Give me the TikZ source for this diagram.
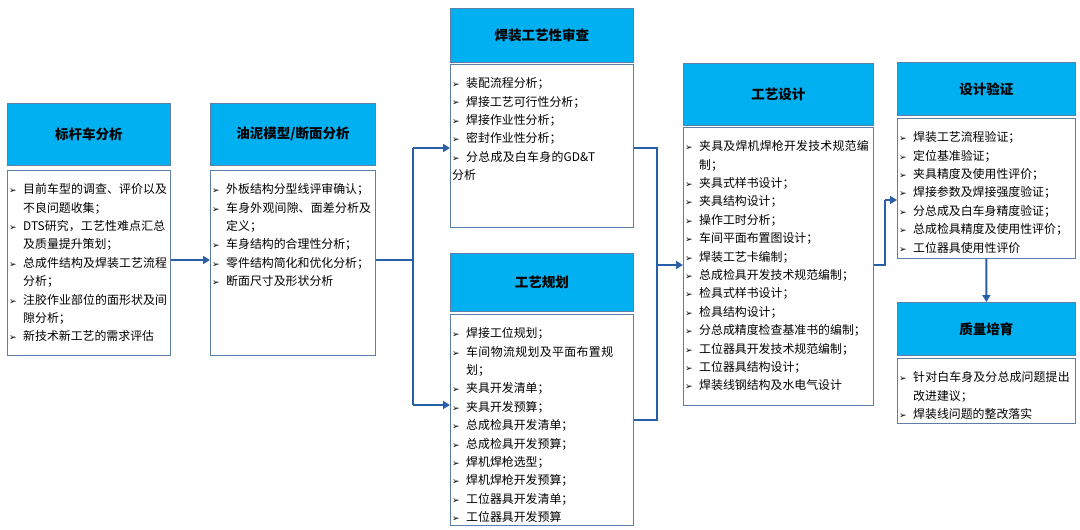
\documentclass[tikz,border=0pt]{standalone}
\usepackage{fontspec}
\setmainfont{Noto Sans CJK SC}
\newfontfamily\djv{DejaVu Sans}
\XeTeXlinebreaklocale "zh"
\XeTeXlinebreakskip=0pt plus 1pt
\usetikzlibrary{arrows.meta}
\definecolor{hdrfill}{HTML}{00B0F0}
\definecolor{hdrline}{HTML}{5B7FA8}
\definecolor{flow}{HTML}{2860A8}
\newcommand{\bi}[1]{\par\hangindent=14pt\hangafter=1\noindent\makebox[14pt][l]{\djv\small ➢}#1}
\tikzset{
 hdr/.style={draw=hdrline, fill=hdrfill, line width=0.8pt, anchor=north west, font=\fontsize{13.5}{16}\selectfont\bfseries, inner sep=0pt},
 bodybox/.style={draw=hdrline, line width=0.7pt, anchor=north west, inner sep=0pt},
 bodytext/.style={anchor=north west, align=left, inner xsep=2pt, inner ysep=5pt, font=\fontsize{11.9}{18.4}\selectfont},
 flowline/.style={draw=flow, line width=2.2pt},
 flowarrow/.style={flowline, -{Triangle[length=7pt,width=8pt]}}
}
\begin{document}
\begin{tikzpicture}[x=1pt,y=-1pt]
\useasboundingbox (0,0) rectangle (1080,530);
% column 1
\node[hdr, minimum width=163, minimum height=62] (h1) at (7,103) {标杆车分析};
\node[bodybox, minimum width=163, minimum height=185] (b1) at (7,170) {};
\node[bodytext, text width=160] (t1) at (b1.north west) {\bi{目前车型的调查、评价以及不良问题收集；}\bi{DTS研究，工艺性难点汇总及质量提升策划；}\bi{总成件结构及焊装工艺流程分析；}\bi{注胶作业部位的面形状及间隙分析；}\bi{新技术新工艺的需求评估}};
% column 2
\node[hdr, minimum width=165, minimum height=62] (h2) at (210,103) {油泥模型/断面分析};
\node[bodybox, minimum width=165, minimum height=185] (b2) at (210,170) {};
\node[bodytext, text width=164] (t2) at (b2.north west) {\bi{外板结构分型线评审确认；}\bi{车身外观间隙、面差分析及定义；}\bi{车身结构的合理性分析；}\bi{零件结构简化和优化分析；}\bi{断面尺寸及形状分析}};
% column 3a
\node[hdr, minimum width=183, minimum height=54] (h3) at (450,8) {焊装工艺性审查};
\node[bodybox, minimum width=183, minimum height=163] (b3) at (450,64) {};
\node[bodytext, text width=150] (t3) at (b3.north west) {\bi{装配流程分析；}\bi{焊接工艺可行性分析；}\bi{焊接作业性分析；}\bi{密封作业性分析；}\bi{分总成及白车身的GD\&T分析}};
% column 3b
\node[hdr, minimum width=183, minimum height=58] (h4) at (450,253) {工艺规划};
\node[bodybox, minimum width=183, minimum height=211] (b4) at (450,314) {};
\node[bodytext, text width=170] (t4) at (b4.north west) {\bi{焊接工位规划；}\bi{车间物流规划及平面布置规划；}\bi{夹具开发清单；}\bi{夹具开发预算；}\bi{总成检具开发清单；}\bi{总成检具开发预算；}\bi{焊机焊枪选型；}\bi{焊机焊枪开发预算；}\bi{工位器具开发清单；}\bi{工位器具开发预算}};
% column 4
\node[hdr, minimum width=190, minimum height=62] (h5) at (683,63) {工艺设计};
\node[bodybox, minimum width=190, minimum height=278] (b5) at (683,127) {};
\node[bodytext, text width=189] (t5) at (b5.north west) {\bi{夹具及焊机焊枪开发技术规范编制；}\bi{夹具式样书设计；}\bi{夹具结构设计；}\bi{操作工时分析；}\bi{车间平面布置图设计；}\bi{焊装工艺卡编制；}\bi{总成检具开发技术规范编制；}\bi{检具式样书设计；}\bi{检具结构设计；}\bi{分总成精度检查基准书的编制；}\bi{工位器具开发技术规范编制；}\bi{工位器具结构设计；}\bi{焊装线钢结构及水电气设计}};
% column 5
\node[hdr, minimum width=178, minimum height=53] (h6) at (897,62) {设计验证};
\node[bodybox, minimum width=178, minimum height=140] (b6) at (897,118) {};
\node[bodytext, text width=178] (t6) at (b6.north west) {\bi{焊装工艺流程验证；}\bi{定位基准验证；}\bi{夹具精度及使用性评价；}\bi{焊接参数及焊接强度验证；}\bi{分总成及白车身精度验证；}\bi{总成检具精度及使用性评价；}\bi{工位器具使用性评价}};
% column 6
\node[hdr, minimum width=178, minimum height=53] (h7) at (897,302) {质量培育};
\node[bodybox, minimum width=178, minimum height=65] (b7) at (897,358) {};
\node[bodytext, text width=174] (t7) at (b7.north west) {\bi{针对白车身及分总成问题提出改进建议；}\bi{焊装线问题的整改落实}};
% connectors
\coordinate (j1) at (413,260);
\coordinate (j2) at (657,265);
\coordinate (j3) at (885,200);
\draw[flowarrow] (b1.east |- 0,260) -- (b2.west |- 0,260);
\draw[flowline] (b2.east |- 0,260) -- (j1);
\draw[flowline] (j1 |- 0,148) -- (j1 |- 0,405);
\draw[flowarrow] (j1 |- 0,148) -- (b3.west |- 0,148);
\draw[flowarrow] (j1 |- 0,405) -- (b4.west |- 0,405);
\draw[flowline] (b3.east |- 0,148) -- (j2 |- 0,148) -- (j2 |- 0,420) -- (b4.east |- 0,420);
\draw[flowarrow] (j2) -- (b5.west |- j2);
\draw[flowline] (b5.east |- j2) -- (j3 |- j2) -- (j3);
\draw[flowarrow] (j3) -- (b6.west |- j3);
\draw[flowarrow] (b6.south) -- (h7.north);
\end{tikzpicture}
\end{document}
